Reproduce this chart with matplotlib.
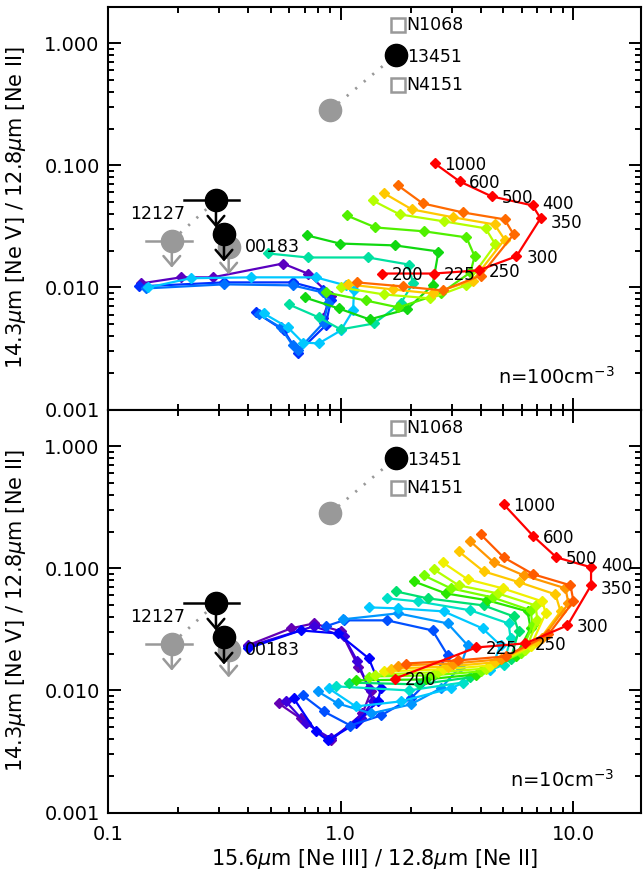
import matplotlib
matplotlib.use('Agg')
import matplotlib.pyplot as plt
import numpy as np
from matplotlib.ticker import FixedLocator, LogLocator, NullFormatter

# shock velocities (km/s) written next to the red track
vel_labels = ['200', '225', '250', '300', '350', '400', '500', '600', '1000']
vel_nudge = [0, 0, 0, 0, -2, 2, 0, 0, 0]   # vertical nudge (pt) so 350/400 don't collide

# model tracks, n = 100 cm^-3 (red -> purple)
top_colors = ['#ff0000', '#ff6a00', '#ffc800', '#b4ff00', '#50f000', '#10d810',
              '#00e0a0', '#00c8ff', '#0070ff', '#0030ff', '#5a00c0']
top_x = [
    [1.50, 2.51, 3.91, 5.69, 7.22, 6.67, 4.45, 3.24, 2.53],
    [1.17, 1.85, 2.74, 3.99, 5.53, 5.06, 3.34, 2.25, 1.76],
    [1.07, 1.67, 2.48, 3.69, 5.06, 4.58, 3.05, 2.02, 1.54],
    [1.00, 1.53, 2.43, 3.44, 4.62, 4.19, 2.77, 1.79, 1.37],
    [0.862, 1.28, 1.77, 2.69, 3.61, 3.76, 3.47, 2.29, 1.41, 1.06],
    [0.700, 0.980, 1.33, 1.92, 2.48, 2.63, 1.71, 0.990, 0.715],
    [0.598, 0.805, 1.00, 1.39, 1.81, 2.04, 1.96, 1.31, 0.721, 0.486],
    [0.467, 0.593, 0.687, 0.805, 1.00, 1.13, 1.14, 1.05, 0.781, 0.411, 0.227, 0.149],
    [0.445, 0.552, 0.622, 0.654, 0.845, 0.880, 0.837, 0.622, 0.315, 0.146],
    [0.432, 0.570, 0.654, 0.862, 0.906, 0.837, 0.622, 0.315, 0.136],
    [0.837, 0.906, 0.721, 0.564, 0.282, 0.206, 0.139],
]
top_y = [
    [0.0130, 0.0130, 0.0138, 0.0180, 0.0368, 0.0470, 0.0557, 0.0739, 0.104],
    [0.0110, 0.0102, 0.00945, 0.0125, 0.0272, 0.0361, 0.0412, 0.0488, 0.0686],
    [0.0106, 0.00964, 0.00893, 0.0114, 0.0247, 0.0328, 0.0375, 0.0436, 0.0589],
    [0.0100, 0.00877, 0.00813, 0.0104, 0.0225, 0.0305, 0.0348, 0.0397, 0.0516],
    [0.00910, 0.00782, 0.00686, 0.00893, 0.0133, 0.0180, 0.0257, 0.0288, 0.0310, 0.0389],
    [0.00828, 0.00673, 0.00547, 0.00661, 0.0104, 0.0197, 0.0221, 0.0229, 0.0267],
    [0.00726, 0.00568, 0.00453, 0.00507, 0.00739, 0.0108, 0.0154, 0.0176, 0.0176, 0.0190],
    [0.00612, 0.00470, 0.00354, 0.00348, 0.00444, 0.00648, 0.00945, 0.0104, 0.0121, 0.0121, 0.0119, 0.0100],
    [0.00601, 0.00470, 0.00335, 0.00305, 0.00516, 0.00739, 0.00910, 0.0104, 0.0106, 0.00982],
    [0.00624, 0.00444, 0.00293, 0.00489, 0.00782, 0.00945, 0.0110, 0.0110, 0.0102],
    [0.00557, 0.00859, 0.0130, 0.0157, 0.0121, 0.0121, 0.0108],
]

# model tracks, n = 10 cm^-3 (red -> purple)
bot_colors = ['#ff0000', '#ff5a00', '#ff9600', '#ffc800', '#f0f000', '#b4ff00', '#78ff00',
              '#28e600', '#00e070', '#00e0c8', '#00c8ff', '#0096ff', '#0050ff', '#0000ff',
              '#3c00dc', '#6400b4']
bot_x = [
    [1.71, 3.83, 6.22, 9.42, 11.9, 11.9, 8.45, 6.73, 5.01],
    [1.90, 3.18, 5.11, 7.81, 10.0, 9.71, 6.73, 5.01, 3.99],
    [1.77, 3.03, 4.86, 7.36, 9.52, 9.24, 6.10, 4.54, 3.61],
    [1.64, 2.88, 4.62, 7.00, 8.80, 8.37, 5.86, 4.11, 3.21],
    [1.53, 2.74, 4.40, 6.54, 7.59, 7.36, 4.96, 3.51, 2.74],
    [1.41, 2.61, 4.19, 6.22, 7.00, 6.87, 4.72, 3.21, 2.51],
    [1.32, 2.48, 3.99, 5.93, 6.67, 6.54, 4.49, 2.97, 2.27],
    [1.16, 2.32, 3.80, 5.64, 6.54, 6.35, 4.27, 2.82, 2.06],
    [1.08, 2.16, 3.61, 5.37, 5.81, 5.53, 4.11, 2.36, 1.72],
    [0.952, 1.96, 3.34, 5.01, 5.37, 5.26, 3.61, 2.14, 1.58],
    [0.888, 1.16, 1.81, 2.97, 4.40, 4.86, 4.07, 2.77, 1.77, 1.32],
    [0.797, 0.971, 1.35, 2.00, 2.69, 3.27, 3.51, 2.88, 1.76, 1.02],
    [0.687, 0.845, 1.10, 1.49, 2.00, 2.51, 2.88, 2.48, 1.58, 1.03, 0.862],
    [0.629, 0.781, 0.880, 1.16, 1.44, 1.49, 1.32, 0.971, 0.673, 0.399],
    [0.581, 0.708, 0.906, 1.22, 1.37, 1.32, 1.18, 1.03, 0.766, 0.399],
    [0.542, 0.673, 0.906, 1.24, 1.35, 1.19, 1.00, 0.766, 0.610, 0.399],
]
bot_y = [
    [0.0125, 0.0225, 0.0243, 0.0341, 0.0726, 0.102, 0.123, 0.183, 0.335],
    [0.0166, 0.0176, 0.0190, 0.0288, 0.0536, 0.0726, 0.0893, 0.123, 0.190],
    [0.0160, 0.0166, 0.0180, 0.0267, 0.0516, 0.0686, 0.0877, 0.112, 0.166],
    [0.0151, 0.0157, 0.0170, 0.0247, 0.0444, 0.0612, 0.0768, 0.0945, 0.138],
    [0.0143, 0.0149, 0.0160, 0.0229, 0.0428, 0.0536, 0.0686, 0.0813, 0.112],
    [0.0135, 0.0141, 0.0151, 0.0213, 0.0375, 0.0497, 0.0624, 0.0726, 0.0982],
    [0.0130, 0.0133, 0.0143, 0.0201, 0.0341, 0.0453, 0.0578, 0.0686, 0.0877],
    [0.0121, 0.0123, 0.0135, 0.0190, 0.0322, 0.0444, 0.0547, 0.0624, 0.0782],
    [0.0116, 0.0112, 0.0128, 0.0180, 0.0305, 0.0404, 0.0497, 0.0568, 0.0648],
    [0.0108, 0.0100, 0.0116, 0.0163, 0.0267, 0.0354, 0.0453, 0.0536, 0.0568],
    [0.0104, 0.00739, 0.00813, 0.0104, 0.0146, 0.0234, 0.0322, 0.0444, 0.0470, 0.0479],
    [0.00982, 0.00782, 0.00648, 0.00768, 0.0104, 0.0157, 0.0234, 0.0354, 0.0428, 0.0382],
    [0.00910, 0.00673, 0.00516, 0.00624, 0.00859, 0.0133, 0.0194, 0.0310, 0.0375, 0.0375, 0.0335],
    [0.00859, 0.00461, 0.00389, 0.00537, 0.00813, 0.0104, 0.0183, 0.0293, 0.0310, 0.0221],
    [0.00813, 0.00537, 0.00404, 0.00589, 0.00813, 0.0104, 0.0173, 0.0277, 0.0335, 0.0229],
    [0.00782, 0.00589, 0.00389, 0.00648, 0.00982, 0.0157, 0.0305, 0.0354, 0.0322, 0.0234],
]

# observed galaxies (same in both panels)
sq_names = ['N1068', 'N4151']
sq_x = [1.76, 1.76]
sq_y = [1.40, 0.453]

obs_names = ['13451', '12127', '00183']
black_x = [1.72, 0.291, 0.315]
black_y = [0.797, 0.0516, 0.0272]
black_xlo = [None, 0.212, None]
black_xhi = [None, 0.365, None]
gray_x = [0.897, 0.188, 0.330]
gray_y = [0.282, 0.0242, 0.0213]
gray_xlo = [None, 0.146, None]
gray_xhi = [None, 0.229, None]
is_upper = [False, True, True]
linked = [True, True, False]

GRAY = '#999999'


def draw_obs(ax):
    for i in range(len(obs_names)):
        if linked[i]:
            ax.plot([gray_x[i], black_x[i]], [gray_y[i], black_y[i]], color=GRAY,
                    lw=2, ls=(0, (0.8, 3.2)), zorder=4)
    for xs, ys, xlo, xhi, col, z in [(gray_x, gray_y, gray_xlo, gray_xhi, GRAY, 5),
                                     (black_x, black_y, black_xlo, black_xhi, 'black', 6)]:
        for i in range(len(xs)):
            if xlo[i] is not None:
                ax.plot([xlo[i], xhi[i]], [ys[i], ys[i]], '-', color=col, lw=1.8, zorder=z)
            if is_upper[i]:
                ax.annotate('', xy=(xs[i], ys[i] * 0.6), xytext=(xs[i], ys[i]),
                            arrowprops=dict(arrowstyle='->,head_width=0.3,head_length=0.35',
                                            color=col, lw=1.8, mutation_scale=20,
                                            shrinkA=0, shrinkB=0),
                            zorder=z)
            ax.plot(xs[i], ys[i], 'o', color=col, ms=16, zorder=z)
    ax.plot(sq_x, sq_y, 's', mfc='white', mec=GRAY, mew=1.8, ms=10, zorder=5)
    for n, x, y in zip(sq_names, sq_x, sq_y):
        ax.annotate(n, (x, y), xytext=(6, 0), textcoords='offset points',
                    ha='left', va='center', fontsize=12.5, zorder=7)
    ax.annotate(obs_names[0], (black_x[0], black_y[0]), xytext=(8, -1),
                textcoords='offset points', ha='left', va='center', fontsize=12.5, zorder=7)
    ax.annotate(obs_names[1], (black_x[1], black_y[1]), xytext=(-22, -10),
                textcoords='offset points', ha='right', va='center', fontsize=12.5, zorder=7)
    ax.annotate(obs_names[2], (gray_x[2], gray_y[2]), xytext=(12, 0),
                textcoords='offset points', ha='left', va='center', fontsize=12.5, zorder=7)


def draw_panel(ax, xs_list, ys_list, colors, dens):
    for xs, ys, c in list(zip(xs_list, ys_list, colors))[::-1]:
        ax.plot(xs, ys, '-', color=c, lw=1.6, marker='D', ms=5, mec=c, zorder=2)
    for lab, dy, x, y in zip(vel_labels, vel_nudge, xs_list[0], ys_list[0]):
        ax.annotate(lab, (x, y), xytext=(7, -1 + dy), textcoords='offset points',
                    ha='left', va='center', fontsize=12, zorder=3)
    draw_obs(ax)

    ax.set_xscale('log')
    ax.set_yscale('log')
    ax.set_xlim(0.1, 19.5)
    ax.set_ylim(0.001, 2.0)
    ax.xaxis.set_major_locator(FixedLocator([0.1, 1.0, 10.0]))
    ax.xaxis.set_minor_locator(LogLocator(base=10, subs=np.arange(2, 10)))
    ax.xaxis.set_minor_formatter(NullFormatter())
    ax.yaxis.set_major_locator(FixedLocator([0.001, 0.01, 0.1, 1.0]))
    ax.yaxis.set_minor_locator(LogLocator(base=10, subs=np.arange(2, 10)))
    ax.yaxis.set_minor_formatter(NullFormatter())
    ax.set_yticklabels(['0.001', '0.010', '0.100', '1.000'])
    ax.tick_params(which='both', direction='in', top=True, right=True, width=1.4,
                   labelsize=14)
    ax.tick_params(which='major', length=9)
    ax.tick_params(which='minor', length=4.5)
    ax.tick_params(axis='y', pad=6)
    ax.tick_params(axis='x', pad=9)
    for s in ax.spines.values():
        s.set_linewidth(1.5)
    ax.set_ylabel(r'14.3$\mu$m [Ne V] / 12.8$\mu$m [Ne II]', fontsize=15)
    ax.yaxis.set_label_coords(-0.15, 0.5)
    ax.text(0.95, 0.055, dens, transform=ax.transAxes, ha='right', va='bottom',
            fontsize=14)


fig = plt.figure(figsize=(6.44, 8.73), dpi=100)
ax_top = fig.add_axes([0.1677, 0.5309, 0.8276, 0.4616])
ax_bot = fig.add_axes([0.1677, 0.0693, 0.8276, 0.4616])

draw_panel(ax_top, top_x, top_y, top_colors, r'n=100cm$^{-3}$')
draw_panel(ax_bot, bot_x, bot_y, bot_colors, r'n=10cm$^{-3}$')

ax_top.tick_params(labelbottom=False)
ax_bot.set_xticklabels(['0.1', '1.0', '10.0'])
ax_bot.set_xlabel(r'15.6$\mu$m [Ne III] / 12.8$\mu$m [Ne II]', fontsize=15)
ax_bot.xaxis.set_label_coords(0.5, -0.085)

fig.savefig('out.png', dpi=100)
